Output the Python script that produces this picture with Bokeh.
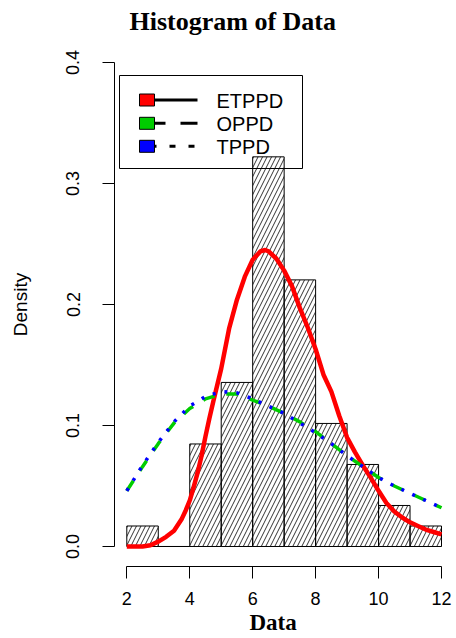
from bokeh.plotting import figure
from bokeh.models import Range1d, FixedTicker, Title
from bokeh.core.properties import value
from bokeh.embed import file_html
from bokeh.resources import INLINE

# ---- histogram of the sample (unit-width bins) ----
BIN_LEFT = [2, 3, 4, 5, 6, 7, 8, 9, 10, 11]
BIN_RIGHT = [3, 4, 5, 6, 7, 8, 9, 10, 11, 12]
BIN_COUNTS = [1, 0, 5, 8, 19, 13, 6, 4, 2, 1]

# ---- fitted densities ----
ETPPD_X = [2.0, 2.25, 2.5, 2.75, 3.0, 3.25, 3.5, 3.75, 3.875, 4.0, 4.125,
           4.25, 4.375, 4.5, 4.625, 4.75, 5.0, 5.25, 5.5, 5.75, 6.0, 6.25,
           6.4, 6.5, 6.75, 7.0, 7.25, 7.5, 7.75, 8.0, 8.25, 8.5, 8.75, 9.0,
           9.25, 9.5, 9.75, 10.0, 10.25, 10.5, 10.75, 11.0, 11.25, 11.5,
           11.75, 12.0]
ETPPD_Y = [0.000, 0.000, 0.000, 0.001, 0.004, 0.008, 0.013, 0.023, 0.030,
           0.038, 0.049, 0.061, 0.075, 0.091, 0.106, 0.120, 0.147, 0.180,
           0.204, 0.223, 0.237, 0.244, 0.245, 0.244, 0.238, 0.228, 0.215,
           0.197, 0.181, 0.163, 0.142, 0.128, 0.108, 0.090, 0.078, 0.067,
           0.057, 0.046, 0.036, 0.029, 0.024, 0.020, 0.017, 0.014, 0.012,
           0.010]

PD_X = [2.0, 2.5, 3.0, 3.5, 4.0, 4.5, 5.0, 5.5, 6.0, 6.5, 7.0, 7.5, 8.0,
        8.5, 9.0, 9.5, 10.0, 10.5, 11.0, 11.5, 12.0]
OPPD_Y = [0.046, 0.066, 0.085, 0.102, 0.114, 0.122, 0.126, 0.126, 0.121,
          0.116, 0.110, 0.103, 0.095, 0.085, 0.075, 0.066, 0.057, 0.050,
          0.044, 0.038, 0.032]
TPPD_Y = [0.046, 0.067, 0.086, 0.103, 0.116, 0.124, 0.128, 0.127, 0.122,
          0.116, 0.110, 0.102, 0.094, 0.085, 0.075, 0.066, 0.057, 0.050,
          0.044, 0.038, 0.032]

SERIES_NAMES = ["ETPPD", "OPPD", "TPPD"]
SERIES_COLORS = ["#FF0000", "#00CD00", "#0000FF"]

X_TICKS = [2, 4, 6, 8, 10, 12]
Y_TICKS = [0.0, 0.1, 0.2, 0.3, 0.4]
Y_TICK_LABELS = ["0.0", "0.1", "0.2", "0.3", "0.4"]

TITLE = "Histogram of Data"
X_LABEL = "Data"
Y_LABEL = "Density"

# ---- layout ----
W, H = 456, 638
FRAME_LEFT, FRAME_TOP = 114, 42
FRAME_W, FRAME_H = 340, 524
X_MIN, X_MAX = 1.609, 12.413
Y_MIN, Y_MAX = -0.01653, 0.41653


def dx(px):
    """canvas pixel column -> data x"""
    return X_MIN + (px - FRAME_LEFT) * (X_MAX - X_MIN) / FRAME_W


def dy(py):
    """canvas pixel row -> data y"""
    return Y_MAX - (py - FRAME_TOP) * (Y_MAX - Y_MIN) / FRAME_H


total = sum(BIN_COUNTS)
bin_density = [c / (total * (r - l)) for c, l, r in zip(BIN_COUNTS, BIN_LEFT, BIN_RIGHT)]

p = figure(width=W, height=H, output_backend="svg", toolbar_location=None,
           x_range=Range1d(X_MIN, X_MAX), y_range=Range1d(Y_MIN, Y_MAX),
           min_border_left=FRAME_LEFT, min_border_right=W - FRAME_LEFT - FRAME_W,
           min_border_top=FRAME_TOP, min_border_bottom=H - FRAME_TOP - FRAME_H)
p.grid.visible = False
p.outline_line_color = None
p.background_fill_color = "white"
p.border_fill_color = "white"

# title, left-aligned with an offset so it sits over the plot like base graphics
p.title = Title(text=TITLE, align="left", offset=15, standoff=10,
                vertical_align="top",
                text_font="Liberation Serif", text_font_style="bold",
                text_font_size="26px", text_color="black")

# hatched histogram bars
p.quad(left=BIN_LEFT, right=BIN_RIGHT, bottom=0, top=bin_density,
       fill_alpha=0, line_color="black", line_width=1,
       hatch_pattern="/", hatch_color="black", hatch_weight=0.8, hatch_scale=9)

# density curves
p.line(ETPPD_X, ETPPD_Y, line_color=SERIES_COLORS[0], line_width=4.5)
p.line(PD_X, OPPD_Y, line_color=SERIES_COLORS[1], line_width=3.5, line_dash="12 12")
p.line(PD_X, TPPD_Y, line_color=SERIES_COLORS[2], line_width=3.5, line_dash="3 9")

# axes
for ax, ticks in ((p.xaxis, X_TICKS), (p.yaxis, Y_TICKS)):
    ax.ticker = FixedTicker(ticks=ticks)
    ax.minor_tick_line_color = None
    ax.major_tick_in = 0
    ax.major_tick_out = 12
    ax.axis_line_color = "black"
    ax.major_tick_line_color = "black"
    ax.major_label_text_font = "Liberation Sans"
    ax.major_label_text_font_size = "18px"
    ax.major_label_text_color = "black"

p.xaxis.major_label_standoff = 13
p.yaxis.major_label_standoff = 23
p.xaxis.bounds = (X_TICKS[0], X_TICKS[-1])
p.yaxis.bounds = (Y_TICKS[0], Y_TICKS[-1])
p.yaxis.major_label_orientation = "vertical"
p.yaxis.major_label_overrides = {t: s for t, s in zip(Y_TICKS, Y_TICK_LABELS)}
p.yaxis.axis_label = Y_LABEL
p.yaxis.axis_label_text_font = "Liberation Sans"
p.yaxis.axis_label_text_font_style = "normal"
p.yaxis.axis_label_text_font_size = "19px"
p.yaxis.axis_label_text_color = "black"
p.yaxis.axis_label_standoff = 33

# x label as a compact bottom title so it can be nudged horizontally
p.add_layout(Title(text=X_LABEL, align="left", offset=135, standoff=4,
                   vertical_align="top", text_line_height=0.6,
                   text_font="Liberation Serif",
                   text_font_style="bold", text_font_size="23px",
                   text_color="black"), "below")

# legend box (transparent, as in base graphics)
p.quad(left=[dx(119)], right=[dx(302)], top=[dy(75)], bottom=[dy(168)],
       fill_alpha=0, line_color="black", line_width=1)
rows = [99.5, 122.8, 145.8]
line_styles = [(147, "solid"), (147, "18 15"), (150, "6 13")]
for name, color, row, (start, dash) in zip(SERIES_NAMES, SERIES_COLORS, rows, line_styles):
    p.segment(x0=[dx(start)], y0=[dy(row)], x1=[dx(197)], y1=[dy(row)],
              line_color="black", line_width=3, line_dash=dash)
    p.rect(x=[dx(146.5)], y=[dy(row)], width=15, height=12,
           width_units="screen", height_units="screen",
           fill_color=color, line_color="black", line_width=1)
    p.text(x=[dx(216)], y=[dy(row + 1)], text=[name], text_align="left",
           text_baseline="middle", text_font=value("Liberation Sans"),
           text_font_size="20px", text_color="black")

open("out.html", "w").write(file_html(p, INLINE))
